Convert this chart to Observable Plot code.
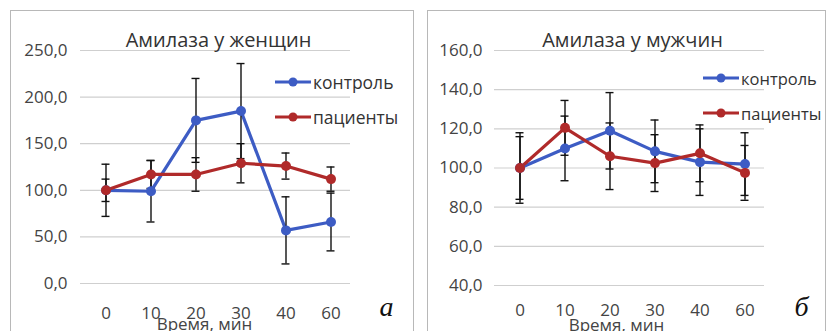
<!DOCTYPE html>
<html>
<head>
<meta charset="utf-8">
<script src="https://cdn.jsdelivr.net/npm/d3@7"></script>
<script src="https://cdn.jsdelivr.net/npm/@observablehq/plot@0.6"></script>
<style>
  html, body { margin: 0; padding: 0; background: #fff; }
  #wrap { position: relative; width: 827px; height: 331px; overflow: hidden; background: #fff; font-family: "Open Sans", sans-serif; }
  .panel { position: absolute; top: 0; }
  .border { position: absolute; border: 1.5px solid #b8b8b8; border-bottom: none; pointer-events: none; }
  .legend { position: absolute; display: flex; align-items: center; color: #333; white-space: nowrap; }
  .legend svg { display: block; margin-right: 2px; }
</style>
</head>
<body>
<div id="wrap"></div>
<script>
// ---- data ----
const times = ["0", "10", "20", "30", "40", "60"];
const seriesNames = ["контроль", "пациенты"];

const womenControl     = [100, 99, 175, 185, 57, 66];
const womenControlErr  = [28, 33, 45, 51, 36, 31];
const womenPatients    = [100, 117, 117, 129, 126, 112];
const womenPatientsErr = [12, 15, 18, 21, 14, 13];

const menControl       = [100, 110, 119, 108.5, 103, 102];
const menControlErr    = [18, 16.5, 19.5, 16, 17, 16];
const menPatients      = [100, 120.5, 106, 102.5, 107.5, 97.5];
const menPatientsErr   = [16, 14, 17, 14.5, 14.5, 14];

const womenTicks = [0, 50, 100, 150, 200, 250];
const menTicks   = [40, 60, 80, 100, 120, 140, 160];

const titles = ["Амилаза у женщин", "Амилаза у мужчин"];
const xLabel = "Время, мин";
const panelLetters = ["а", "б"];

const colors = ["#3d5cc4", "#b02a2a"];

function rows(vals, errs, name) {
  return times.map((t, i) => ({t, v: vals[i], lo: vals[i] - errs[i], hi: vals[i] + errs[i], s: name}));
}

const fmt = d => d.toFixed(1).replace(".", ",");

function chart(o) {
  const data = [
    ...rows(o.control, o.controlErr, seriesNames[0]),
    ...rows(o.patients, o.patientsErr, seriesNames[1])
  ];
  return Plot.plot({
    width: o.width,
    height: 331,
    marginLeft: o.ml,
    marginRight: o.mr,
    marginTop: 50,
    marginBottom: o.mb,
    style: {background: "transparent", fontFamily: "Open Sans, sans-serif", fontSize: "17px", color: "#444"},
    x: {type: "band", domain: times, padding: 0, label: null},
    y: {domain: o.domain, label: null},
    color: {domain: seriesNames, range: colors},
    marks: [
      Plot.gridY(o.ticks, {stroke: "#cfcfcf", strokeOpacity: 1, strokeWidth: 1.2, insetLeft: -3, insetRight: 3}),
      Plot.axisY(o.ticks, {tickSize: 0, tickPadding: o.tp, tickFormat: fmt, fontSize: 17, fill: "#444"}),
      Plot.axisX({tickSize: 0, tickPadding: o.xtp, fontSize: 17, fill: "#444"}),
      Plot.line(data, {x: "t", y: "v", z: "s", stroke: "s", strokeWidth: 3.2}),
      Plot.ruleX(data, {x: "t", y1: "lo", y2: "hi", stroke: "#111", strokeWidth: 1.4}),
      Plot.tickY(data, {x: "t", y: "lo", stroke: "#111", strokeWidth: 1.4, insetLeft: 18.5, insetRight: 18.5}),
      Plot.tickY(data, {x: "t", y: "hi", stroke: "#111", strokeWidth: 1.4, insetLeft: 18.5, insetRight: 18.5}),
      Plot.dot(data, {x: "t", y: "v", fill: "s", r: 5}),
      Plot.text([o.title], {frameAnchor: "top", lineAnchor: "middle", dy: -10, fontSize: 20, fill: "#333"}),
      Plot.text([xLabel], {frameAnchor: "bottom", lineAnchor: "middle", dx: o.xlDx, dy: o.xlDy, fontSize: 17, fill: "#444"}),
      Plot.text([o.letter], {frameAnchor: "bottom-right", textAnchor: "middle", lineAnchor: "bottom", dx: o.ldx, dy: o.ldy, fontSize: 28, fontFamily: "Liberation Serif, serif", fontStyle: "italic", fill: "#111"})
    ]
  });
}

const wrap = document.getElementById("wrap");

function addPanel(left, svg) {
  const d = document.createElement("div");
  d.className = "panel";
  d.style.left = left + "px";
  d.appendChild(svg);
  wrap.appendChild(d);
}

addPanel(0, chart({
  width: 420, ml: 83, mr: 67, mb: 48, tp: 16, xtp: 23,
  domain: [0, 250], ticks: womenTicks, title: titles[0], letter: panelLetters[0],
  control: womenControl, controlErr: womenControlErr,
  patients: womenPatients, patientsErr: womenPatientsErr,
  xlDx: -14, xlDy: 41, ldx: 33, ldy: 32
}));

addPanel(420, chart({
  width: 407, ml: 77, mr: 60, mb: 46, tp: 15, xtp: 18,
  domain: [40, 160], ticks: menTicks, title: titles[1], letter: panelLetters[1],
  control: menControl, controlErr: menControlErr,
  patients: menPatients, patientsErr: menPatientsErr,
  xlDx: -16, xlDy: 40, ldx: 34, ldy: 30
}));

function addBorder(l, t, w, h) {
  const b = document.createElement("div");
  b.className = "border";
  Object.assign(b.style, {left: l + "px", top: t + "px", width: w + "px", height: h + "px"});
  wrap.appendChild(b);
}
addBorder(10, 10, 402, 330);
addBorder(427, 10, 397, 330);

function addLegend(x, y, i, fs) {
  const lg = document.createElement("div");
  lg.className = "legend";
  lg.style.left = x + "px";
  lg.style.top = (y - 12) + "px";
  lg.style.height = "24px";
  lg.style.fontSize = fs + "px";
  lg.innerHTML = `<svg width="36" height="12"><line x1="0" y1="6" x2="36" y2="6" stroke="${colors[i]}" stroke-width="3.2"/><circle cx="18" cy="6" r="4.5" fill="${colors[i]}"/></svg><span>${seriesNames[i]}</span>`;
  wrap.appendChild(lg);
}
addLegend(275, 82, 0, 17.5);
addLegend(275, 117, 1, 17.5);
addLegend(703, 78, 0, 16.5);
addLegend(703, 113, 1, 16.5);
</script>
</body>
</html>
